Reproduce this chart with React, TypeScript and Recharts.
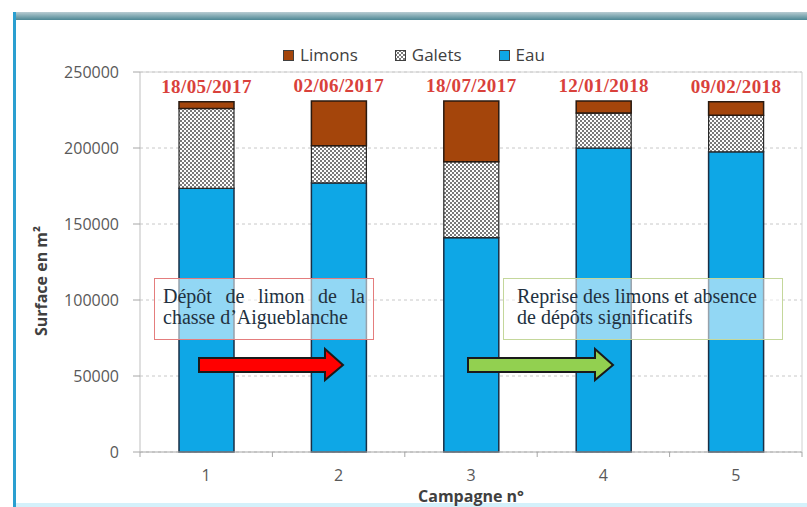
import React from 'react';
import { BarChart, Bar, XAxis, YAxis, CartesianGrid, Legend, LabelList, ReferenceLine } from 'recharts';

const categories = ['1', '2', '3', '4', '5'];
const dates = ['18/05/2017', '02/06/2017', '18/07/2017', '12/01/2018', '09/02/2018'];
const eau = [173500, 177000, 141000, 200000, 197500];
const galets = [52500, 24500, 50000, 23000, 24000];
const limons = [4500, 29500, 40000, 8000, 9000];
const yTicks = [0, 50000, 100000, 150000, 200000, 250000];

const data = categories.map((c, i) => ({ c, date: dates[i], eau: eau[i], galets: galets[i], limons: limons[i] }));

const SANS = '"Open Sans", "Noto Sans", sans-serif';
const SERIF = '"Liberation Serif", "DejaVu Serif", serif';
const X_TICK_MARGIN = 18;

const XTick = (props: any) => {
  const { x, y, payload, index } = props;
  const axisY = y - X_TICK_MARGIN;
  const half = payload && typeof payload.offset === 'number' && payload.offset > 0 ? payload.offset : 66.2;
  return (
    <g>
      <line x1={x - half} x2={x - half} y1={axisY} y2={axisY + 5} stroke="#a6a6a6" />
      {index === categories.length - 1 && (
        <line x1={x + half} x2={x + half} y1={axisY} y2={axisY + 5} stroke="#a6a6a6" />
      )}
      <text x={x} y={y} dy="0.71em" textAnchor="middle" fill="#595959" fontSize={16} fontFamily={SANS}>
        {payload.value}
      </text>
    </g>
  );
};

const LegendContent = (props: any) => {
  const items = [...(props.payload || [])].reverse();
  return (
    <div style={{ display: 'flex', justifyContent: 'center', paddingLeft: 21, fontFamily: SANS, fontSize: 17, color: '#404040' }}>
      {items.map((it: any, i: number) => (
        <div key={it.value} style={{ display: 'flex', alignItems: 'center', marginRight: i < items.length - 1 ? 37 : 0 }}>
          <svg width={11} height={11} style={{ marginRight: 6 }}>
            <rect x={0.5} y={0.5} width={10} height={10} fill={it.color} stroke="#404040" strokeWidth={1} />
          </svg>
          <span style={{ lineHeight: '22px' }}>{it.value}</span>
        </div>
      ))}
    </div>
  );
};

export default function App() {
  return (
    <div style={{ position: 'absolute', left: 0, top: 0, width: 807, height: 507, background: '#fff', overflow: 'hidden' }}>
      <svg width={0} height={0} style={{ position: 'absolute' }}>
        <defs>
          <pattern id="galetsHatch" width={4} height={4} patternUnits="userSpaceOnUse">
            <rect width={4} height={4} fill="#ffffff" />
            <rect width={2} height={2} fill="#7a7a7a" />
            <rect x={2} y={2} width={2} height={2} fill="#7a7a7a" />
          </pattern>
          <linearGradient id="topBar" x1="0" y1="0" x2="0" y2="1">
            <stop offset="0" stopColor="#b8ccd2" />
            <stop offset="1" stopColor="#4d8794" />
          </linearGradient>
        </defs>
      </svg>

      <BarChart width={807} height={507} data={data} margin={{ top: 72, right: 0, bottom: 0, left: 0 }}>
        <CartesianGrid vertical={false} horizontal={true} stroke="#c8c8c8" strokeDasharray="3 3" yAxisId="l" />
        <XAxis
          dataKey="c"
          tickLine={false}
          tickSize={0}
          tickMargin={X_TICK_MARGIN}
          axisLine={{ stroke: '#a6a6a6' }}
          tick={<XTick />}
          height={55}
          interval={0}
        />
        <YAxis
          yAxisId="l"
          width={140}
          domain={[0, 250000]}
          ticks={yTicks}
          interval={0}
          tickSize={7}
          tickMargin={14}
          tickLine={{ stroke: '#a6a6a6' }}
          axisLine={{ stroke: '#bfbfbf' }}
          tick={{ fill: '#595959', fontSize: 16, fontFamily: SANS }}
        />
        <YAxis
          yAxisId="r"
          orientation="right"
          width={5}
          domain={[0, 250000]}
          tick={false}
          tickLine={false}
          axisLine={{ stroke: '#d0d0d0' }}
        />
        <ReferenceLine yAxisId="l" y={250000} stroke="#d0d0d0" />
        <Legend
          verticalAlign="middle"
          align="center"
          layout="horizontal"
          content={<LegendContent />}
          wrapperStyle={{ top: 44, left: 0, width: 807, height: 22 }}
        />
        <Bar yAxisId="l" dataKey="eau" name="Eau" stackId="s" fill="#0ea7e6" stroke="#1a2f45" strokeWidth={1.5} barSize={55} isAnimationActive={false} />
        <Bar yAxisId="l" dataKey="galets" name="Galets" stackId="s" fill="url(#galetsHatch)" stroke="#2a2a2a" strokeWidth={1.2} barSize={55} isAnimationActive={false} />
        <Bar yAxisId="l" dataKey="limons" name="Limons" stackId="s" fill="#a4450b" stroke="#2a1a10" strokeWidth={1.5} barSize={55} isAnimationActive={false}>
          <LabelList
            dataKey="date"
            position="top"
            offset={9}
            fill="#d9413b"
            fontSize={19}
            fontWeight="bold"
            fontFamily={SERIF}
            letterSpacing={0.4}
          />
        </Bar>
      </BarChart>

      {/* frame */}
      <svg width={807} height={507} style={{ position: 'absolute', left: 0, top: 0, pointerEvents: 'none' }}>
        <rect x={13} y={12} width={794} height={8} fill="url(#topBar)" />
        <rect x={13} y={12} width={3} height={495} fill="#2a9fd0" />
        <rect x={16} y={503} width={791} height={4} fill="#d4f1fb" />
        <text
          transform="translate(47 281) rotate(-90)"
          textAnchor="middle"
          fontFamily={SANS}
          fontWeight="bold"
          fontSize={16}
          fill="#404040"
        >
          Surface en m²
        </text>
        <text x={471} y={502} textAnchor="middle" fontFamily={SANS} fontWeight="bold" fontSize={16} fill="#404040">
          Campagne n°
        </text>
        <polygon
          points="199,358 325,358 325,349 343,365 325,380 325,372 199,372"
          fill="#ff0000"
          stroke="#1a1a1a"
          strokeWidth={2}
          strokeLinejoin="miter"
        />
        <polygon
          points="468,358 595,358 595,349 613,365 595,380 595,372 468,372"
          fill="#92d050"
          stroke="#1a1a1a"
          strokeWidth={2}
          strokeLinejoin="miter"
        />
      </svg>

      <div
        style={{
          position: 'absolute',
          left: 154,
          top: 278,
          width: 220,
          height: 62,
          boxSizing: 'border-box',
          border: '1.5px solid #e47d7d',
          background: 'rgba(255,255,255,0.55)',
          padding: '7px 8px 0 8px',
          fontFamily: SERIF,
          fontSize: 20,
          lineHeight: '21px',
          color: '#22313f',
          textAlign: 'justify',
          textAlignLast: 'left',
        }}
      >
        Dépôt de limon de la chasse d’Aigueblanche
      </div>
      <div
        style={{
          position: 'absolute',
          left: 503,
          top: 278,
          width: 280,
          height: 62,
          boxSizing: 'border-box',
          border: '1.5px solid #c4d79b',
          background: 'rgba(255,255,255,0.55)',
          padding: '7px 8px 0 13px',
          fontFamily: SERIF,
          fontSize: 20,
          lineHeight: '21px',
          color: '#22313f',
        }}
      >
        Reprise des limons et absence de dépôts significatifs
      </div>
    </div>
  );
}
